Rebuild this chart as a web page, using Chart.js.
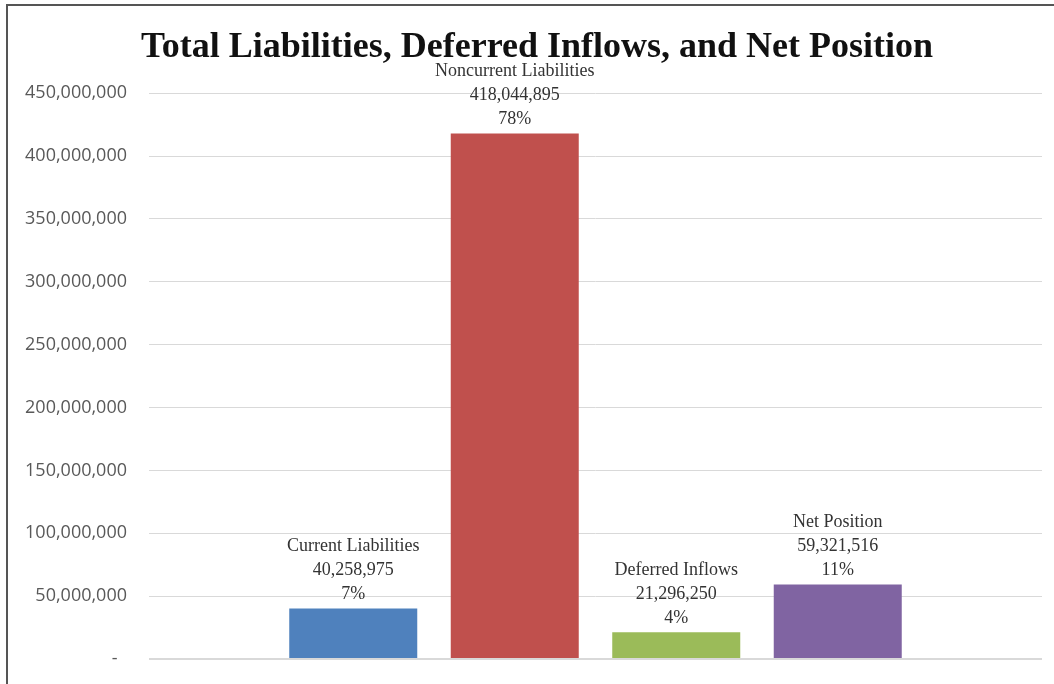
<!DOCTYPE html>
<html>
<head>
<meta charset="utf-8">
<script src="https://cdn.jsdelivr.net/npm/chart.js@4.4.1/dist/chart.umd.min.js"></script>
<style>
    html, body { margin: 0; padding: 0; background: #fff; }
    #wrap { position: relative; width: 1054px; height: 684px; overflow: hidden; }
    #frame {
        position: absolute; left: 6px; top: 4px; width: 1100px; height: 720px;
        border-top: 2px solid #555; border-left: 2px solid #555; pointer-events: none;
    }
    canvas { position: absolute; left: 0; top: 0; }
</style>
</head>
<body>
<div id="wrap">
    <canvas id="chart" width="1054" height="684"></canvas>
    <div id="frame"></div>
</div>
<script>
const categories = [""];
const seriesNames = ["Current Liabilities", "Noncurrent Liabilities", "Deferred Inflows", "Net Position"];
const seriesValues = [40258975, 418044895, 21296250, 59321516];
const seriesPercents = [7, 78, 4, 11];
const yTicks = [0, 50000000, 100000000, 150000000, 200000000, 250000000, 300000000, 350000000, 400000000, 450000000];

const barColors = ["#4F81BD", "#C0504D", "#9BBB59", "#8064A2"];

const fmt = n => n.toLocaleString("en-US");

// labels above bars: name / value / percent
const barLabels = {
    id: "barLabels",
    afterLayout(chart) {
        // title sits a bit right of the canvas centre
        chart.titleBlock.left = 20;
        chart.titleBlock.right = 1054;
    },
    afterDatasetsDraw(chart) {
        const ctx = chart.ctx;
        ctx.save();
        ctx.font = "18px 'Liberation Serif', 'Times New Roman', serif";
        ctx.fillStyle = "#333";
        ctx.textAlign = "center";
        ctx.textBaseline = "middle";
        chart.data.datasets.forEach((ds, i) => {
            const bar = chart.getDatasetMeta(i).data[0];
            const lines = [seriesNames[i], fmt(seriesValues[i]), seriesPercents[i] + "%"];
            const last = bar.y - 14;
            lines.forEach((t, k) => {
                ctx.fillText(t, bar.x, last - (lines.length - 1 - k) * 24);
            });
        });
        ctx.restore();
    }
};

new Chart(document.getElementById("chart"), {
    type: "bar",
    data: {
        labels: categories,
        datasets: seriesNames.map((name, i) => ({
            label: name,
            data: [seriesValues[i]],
            backgroundColor: barColors[i],
            categoryPercentage: 0.7234,
            barPercentage: 0.7926
        }))
    },
    options: {
        responsive: false,
        animation: false,
        layout: { padding: { left: 0, right: 12, top: 0, bottom: 25 } },
        plugins: {
            legend: { display: false },
            tooltip: { enabled: false },
            title: {
                display: true,
                text: "Total Liabilities, Deferred Inflows, and Net Position",
                color: "#111",
                font: { family: "'Liberation Serif', 'Times New Roman', serif", size: 36, weight: "bold" },
                padding: { top: 26, bottom: 24 }
            }
        },
        scales: {
            x: { display: false },
            y: {
                min: 0,
                max: yTicks[yTicks.length - 1],
                afterBuildTicks: scale => { scale.ticks = yTicks.map(v => ({ value: v })); },
                afterFit: scale => {
                    scale.width = 149;
                    scale.paddingTop = 0;
                    scale.paddingBottom = 0;
                },
                border: { display: false },
                grid: {
                    color: "#d9d9d9",
                    lineWidth: c => (c.tick && c.tick.value === 0 ? 2 : 1),
                    drawTicks: false
                },
                ticks: {
                    padding: 22,
                    color: "#595959",
                    font: { family: "'Open Sans', sans-serif", size: 18 },
                    callback: v => (v === 0 ? "-  " : fmt(v))
                }
            }
        }
    },
    plugins: [barLabels]
});
</script>
</body>
</html>
